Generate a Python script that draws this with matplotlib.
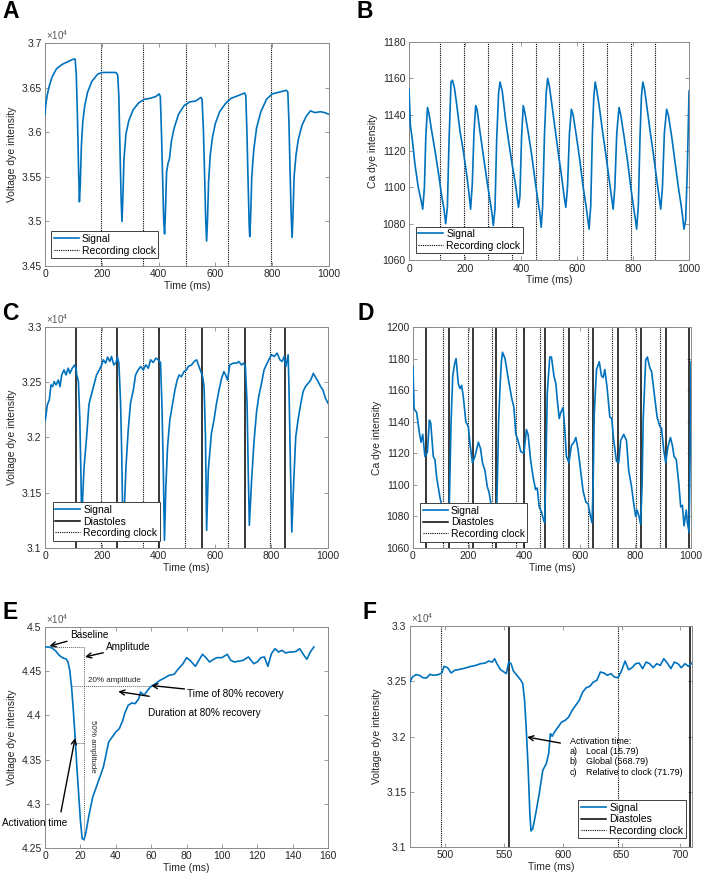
import matplotlib.pyplot as plt
from matplotlib.ticker import FuncFormatter

plt.rcParams['font.family'] = ['Liberation Sans', 'DejaVu Sans']
plt.rcParams['mathtext.fontset'] = 'custom'
plt.rcParams['mathtext.rm'] = 'Liberation Sans'
plt.rcParams['font.size'] = 7.5

blue = '#0072BD'

# ---- panel A: voltage signal (x10^4) ----
a_t = [0, 3, 8, 15, 25, 40, 60, 80, 100, 106, 110, 114, 118, 121, 124, 128, 133, 140, 150, 165,
       185, 200, 230, 250, 256, 260, 264, 268, 271, 274, 278, 285, 295, 310, 330, 350, 370, 390,
       402, 406, 410, 414, 418, 421, 424, 428, 433, 438, 445, 455, 470, 490, 510, 530, 549, 553,
       558, 562, 566, 569, 572, 576, 582, 590, 600, 615, 635, 655, 680, 703, 707, 711, 715, 719,
       721, 724, 728, 735, 745, 760, 780, 800, 825, 850, 855, 859, 863, 867, 870, 873, 877, 884,
       892, 905, 920, 935, 950, 970, 985, 1000]
a_v = [3.620, 3.632, 3.642, 3.652, 3.662, 3.671, 3.676, 3.679, 3.682, 3.682, 3.665, 3.620, 3.560,
       3.522, 3.540, 3.585, 3.612, 3.630, 3.645, 3.657, 3.665, 3.667, 3.667, 3.667, 3.664, 3.640,
       3.580, 3.525, 3.500, 3.525, 3.570, 3.598, 3.613, 3.625, 3.633, 3.637, 3.638, 3.640, 3.643,
       3.640, 3.600, 3.550, 3.500, 3.486, 3.510, 3.555, 3.565, 3.570, 3.590, 3.605, 3.620, 3.630,
       3.634, 3.635, 3.639, 3.637, 3.600, 3.550, 3.500, 3.478, 3.500, 3.545, 3.575, 3.595, 3.610,
       3.623, 3.632, 3.638, 3.641, 3.644, 3.641, 3.600, 3.545, 3.495, 3.483, 3.505, 3.550, 3.580,
       3.605, 3.623, 3.637, 3.643, 3.645, 3.647, 3.645, 3.610, 3.555, 3.505, 3.482, 3.505, 3.550,
       3.575, 3.592, 3.608, 3.618, 3.624, 3.622, 3.623, 3.622, 3.620]
a_clock = [196, 346, 496, 646, 797]

# ---- panel B: calcium signal ----
b_t = [0, 5, 12, 21, 33, 43, 49, 55, 60, 66, 71, 81, 93, 105, 117, 125, 131, 137, 143, 150, 155,
       162, 170, 182, 194, 206, 214, 220, 226, 232, 238, 243, 254, 266, 278, 288, 296, 301, 307,
       313, 320, 325, 333, 345, 357, 369, 380, 386, 391, 396, 402, 408, 414, 426, 438, 450, 460,
       467, 472, 477, 484, 490, 495, 501, 509, 521, 533, 545, 554, 560, 566, 573, 580, 586, 598,
       610, 622, 632, 638, 643, 649, 655, 660, 665, 671, 679, 691, 703, 715, 723, 729, 735, 742,
       750, 756, 768, 780, 792, 802, 808, 813, 819, 825, 830, 835, 841, 849, 861, 873, 885, 893,
       899, 905, 912, 920, 926, 938, 950, 962, 972, 977, 982, 988, 994, 1000]
b_v = [1154, 1134, 1126, 1113, 1100, 1093, 1088, 1100, 1128, 1144, 1141, 1131, 1120, 1108, 1095,
       1088, 1080, 1089, 1126, 1158, 1159, 1155, 1146, 1131, 1120, 1107, 1097, 1088, 1102, 1130,
       1145, 1143, 1130, 1117, 1104, 1094, 1086, 1079, 1088, 1126, 1152, 1158, 1153, 1137, 1124,
       1112, 1102, 1095, 1089, 1095, 1128, 1145, 1141, 1130, 1118, 1104, 1093, 1086, 1078, 1089,
       1130, 1152, 1160, 1156, 1147, 1133, 1119, 1106, 1095, 1089, 1100, 1130, 1143, 1140, 1128,
       1115, 1100, 1090, 1083, 1077, 1090, 1130, 1150, 1158, 1153, 1145, 1131, 1118, 1104, 1095,
       1088, 1100, 1130, 1144, 1140, 1128, 1115, 1100, 1089, 1083, 1077, 1090, 1128, 1150, 1158,
       1154, 1145, 1131, 1118, 1104, 1095, 1088, 1100, 1130, 1143, 1140, 1128, 1114, 1100, 1090,
       1084, 1077, 1082, 1110, 1153]
b_clock = [111, 197, 281, 367, 452, 536, 621, 706, 791, 877]

# ---- panel C: voltage signal with diastoles (x10^4) ----
c_t = [0, 2, 8, 15, 21, 27, 32, 39, 47, 53, 59, 67, 74, 82, 88, 96, 105, 110, 112, 118, 123, 127,
       130, 133, 138, 147, 155, 159, 171, 182, 192, 200, 206, 214, 221, 229, 235, 243, 251, 256,
       261, 267, 271, 275, 278, 281, 286, 294, 302, 312, 320, 329, 338, 347, 356, 365, 373, 382,
       392, 400, 408, 413, 418, 422, 427, 433, 441, 451, 459, 467, 474, 482, 491, 500, 506, 518,
       527, 536, 544, 551, 557, 562, 567, 571, 577, 582, 588, 597, 606, 615, 624, 632, 638, 645,
       653, 665, 677, 685, 694, 702, 708, 714, 718, 722, 730, 738, 747, 755, 765, 774, 782, 791,
       800, 810, 820, 830, 838, 845, 851, 859, 862, 867, 872, 879, 886, 894, 904, 912, 920, 930,
       939, 948, 955, 965, 974, 982, 991, 1000]
c_v = [3.215, 3.2174, 3.2295, 3.234, 3.2476, 3.246, 3.2506, 3.2476, 3.252, 3.246, 3.2566, 3.2612,
       3.2566, 3.2627, 3.258, 3.2627, 3.2657, 3.262, 3.2566, 3.2506, 3.216, 3.165, 3.115, 3.146,
       3.1735, 3.2007, 3.2295, 3.234, 3.246, 3.2566, 3.2612, 3.2657, 3.2703, 3.2673, 3.2727,
       3.2688, 3.2733, 3.2657, 3.2679, 3.2727, 3.2673, 3.231, 3.1855, 3.12, 3.11, 3.14, 3.1735,
       3.2068, 3.231, 3.243, 3.2566, 3.2612, 3.2642, 3.2612, 3.2657, 3.2627, 3.2703, 3.2679,
       3.2718, 3.2703, 3.2679, 3.231, 3.1705, 3.107, 3.1553, 3.1916, 3.2158, 3.231, 3.243, 3.252,
       3.2566, 3.255, 3.2596, 3.2612, 3.2642, 3.2657, 3.2688, 3.2703, 3.2642, 3.2596, 3.255,
       3.246, 3.2007, 3.116, 3.1705, 3.1855, 3.2037, 3.2158, 3.231, 3.243, 3.2536, 3.2596,
       3.2566, 3.252, 3.2657, 3.2673, 3.2673, 3.2688, 3.2657, 3.2673, 3.2642, 3.231, 3.1705,
       3.1205, 3.1614, 3.1946, 3.2219, 3.237, 3.2491, 3.2612, 3.2657, 3.2703, 3.2749, 3.2733,
       3.2764, 3.2703, 3.2688, 3.2733, 3.2642, 3.2749, 3.246, 3.1765, 3.1144, 3.1614, 3.2007,
       3.2158, 3.231, 3.2415, 3.246, 3.2491, 3.252, 3.258, 3.255, 3.2506, 3.246, 3.243, 3.2355,
       3.231]
c_diastoles = [109, 256, 402, 553, 706, 849]
c_clock = [198, 346, 495, 646, 796]

# ---- panel D: calcium signal with diastoles ----
d_t = [0, 4, 13, 23, 29, 35, 43, 47, 52, 59, 64, 73, 79, 85, 97, 110, 120, 126, 131, 137, 143,
       150, 155, 163, 169, 175, 181, 190, 199, 205, 214, 223, 235, 243, 250, 259, 267, 274, 283,
       292, 297, 302, 308, 313, 318, 322, 331, 343, 355, 363, 370, 378, 388, 399, 408, 414, 423,
       432, 441, 447, 454, 462, 471, 474, 478, 483, 492, 498, 507, 514, 519, 526, 532, 540, 546,
       552, 561, 570, 579, 586, 594, 603, 612, 622, 630, 636, 644, 648, 652, 660, 670, 678, 684,
       690, 698, 708, 715, 722, 732, 740, 747, 758, 768, 776, 786, 794, 801, 806, 813, 819, 824,
       828, 837, 843, 852, 858, 867, 878, 888, 894, 902, 909, 917, 926, 933, 939, 947, 956, 963,
       969, 975, 983, 987, 993, 997, 1000]
d_v = [1175, 1148, 1146, 1133, 1127, 1132, 1118, 1119, 1121, 1141, 1139, 1118, 1116, 1105, 1092,
       1082, 1074, 1072, 1090, 1140, 1169, 1177, 1180, 1164, 1161, 1163, 1156, 1140, 1137, 1126,
       1114, 1118, 1127, 1123, 1114, 1109, 1099, 1095, 1085, 1076, 1070, 1090, 1140, 1162, 1178,
       1184, 1180, 1167, 1155, 1149, 1132, 1128, 1121, 1120, 1135, 1132, 1116, 1105, 1097, 1098,
       1086, 1083, 1077, 1076, 1110, 1158, 1181, 1181, 1169, 1164, 1154, 1142, 1146, 1149, 1135,
       1118, 1114, 1125, 1127, 1130, 1122, 1109, 1096, 1089, 1088, 1082, 1076, 1100, 1145, 1173,
       1178, 1169, 1168, 1173, 1162, 1143, 1142, 1128, 1115, 1114, 1128, 1132, 1128, 1109, 1099,
       1088, 1080, 1084, 1080, 1075, 1100, 1141, 1179, 1181, 1174, 1172, 1159, 1143, 1137, 1136,
       1122, 1114, 1124, 1130, 1125, 1118, 1116, 1101, 1086, 1087, 1074, 1084, 1076, 1070, 1120,
       1178]
d_diastoles = [46, 129, 216, 299, 399, 474, 561, 648, 738, 820, 909, 993]
d_clock = [109, 197, 284, 370, 456, 540, 628, 716, 803, 890]

# ---- panel E: single beat (x10^4) ----
e_t = [0, 2, 4, 6, 8, 10, 12, 13, 14, 15, 16, 17, 18, 19, 20, 21, 22, 23, 25, 27, 29, 31, 33, 35,
       36, 38, 40, 42, 44, 45, 47, 49, 51, 53, 54, 56, 58, 60, 62, 65, 68, 70, 73, 75, 78, 80, 82,
       85, 87, 89, 91, 93, 95, 97, 100, 103, 105, 107, 109, 112, 115, 118, 120, 122, 124, 126,
       128, 130, 132, 134, 136, 138, 140, 142, 144, 146, 148, 150, 152]
e_v = [4.4774, 4.4774, 4.4762, 4.4729, 4.468, 4.465, 4.4638, 4.4604, 4.451, 4.4321, 4.4057,
       4.3756, 4.3416, 4.3115, 4.2813, 4.2606, 4.2594, 4.2662, 4.2888, 4.3077, 4.319, 4.3303,
       4.3416, 4.3605, 4.3699, 4.3756, 4.3812, 4.385, 4.3944, 4.402, 4.4114, 4.414, 4.4133,
       4.4189, 4.4265, 4.4227, 4.4284, 4.4329, 4.4351, 4.4397, 4.4427, 4.4453, 4.4465, 4.4517,
       4.4585, 4.4653, 4.4623, 4.4555, 4.4623, 4.4691, 4.4653, 4.4604, 4.463, 4.4653, 4.4653,
       4.4691, 4.4623, 4.4604, 4.4612, 4.4623, 4.4661, 4.4585, 4.4604, 4.4653, 4.4661, 4.4555,
       4.4698, 4.4755, 4.4717, 4.4736, 4.4706, 4.4717, 4.4717, 4.4725, 4.4755, 4.4691, 4.4634,
       4.4717, 4.4774]
e_activation = 17.0
e_recovery = 60.0

# ---- panel F: zoom on one beat (x10^4) ----
f_t = [470, 472, 475, 478, 481, 484, 487, 490, 494, 497, 499, 502, 505, 508, 511, 515, 518, 522,
       526, 530, 534, 537, 540, 542, 544, 547, 550, 552, 554, 556, 558, 561, 564, 566, 567.5, 569,
       570.5, 572, 573, 574.5, 577, 580, 583, 586, 588, 589.5, 591, 593, 596, 599, 602, 605, 608,
       611, 614, 617, 620, 623, 626, 629, 632, 635, 638, 641, 644, 647, 650, 653, 656, 659, 662,
       665, 668, 671, 674, 677, 680, 683, 686, 689, 692, 695, 698, 701, 704, 707, 710]
f_v = [3.2493, 3.2538, 3.256, 3.2554, 3.2532, 3.2529, 3.2563, 3.2554, 3.256, 3.2575, 3.2635,
       3.2623, 3.2575, 3.2599, 3.2605, 3.2614, 3.2623, 3.2635, 3.2644, 3.2659, 3.2665, 3.2683,
       3.2674, 3.2704, 3.2659, 3.2605, 3.2584, 3.2569, 3.2674, 3.2659, 3.2593, 3.2554, 3.2514,
       3.2478, 3.2327, 3.2056, 3.1724, 3.1302, 3.1145, 3.1166, 3.1302, 3.1483, 3.1694, 3.1754,
       3.1845, 3.2026, 3.2002, 3.2041, 3.2086, 3.2131, 3.2146, 3.2176, 3.2237, 3.2282, 3.2327,
       3.2403, 3.2442, 3.2454, 3.2493, 3.2508, 3.2584, 3.2575, 3.2554, 3.2569, 3.2538, 3.2532,
       3.2593, 3.2683, 3.2605, 3.2623, 3.2659, 3.2665, 3.2614, 3.2674, 3.2659, 3.2623, 3.2659,
       3.2644, 3.2704, 3.2665, 3.2614, 3.2674, 3.2659, 3.2623, 3.2659, 3.2635, 3.2665]
f_diastoles = [554, 708.6]
f_clock = [496.6, 646.8]
f_lines = ['Activation time:', 'a)', 'Local (15.79)', 'b)', 'Global (568.79)', 'c)',
           'Relative to clock (71.79)']


def style(ax, xlim, ylim, xticks, yticks, ylabel, sci=False):
    ax.set_xlim(xlim)
    ax.set_ylim(ylim)
    ax.set_xticks(xticks)
    ax.set_yticks(yticks)
    ax.xaxis.set_major_formatter(FuncFormatter(lambda v, p: '%g' % v))
    ax.yaxis.set_major_formatter(FuncFormatter(lambda v, p: '%g' % v))
    ax.tick_params(direction='in', top=True, right=True, length=3, width=0.6,
                   color='#8a8a8a', labelcolor='#262626', labelsize=7.5, pad=2.5)
    for s in ax.spines.values():
        s.set_color('#8a8a8a')
        s.set_linewidth(0.7)
    ax.set_xlabel('Time (ms)', labelpad=1, color='#262626')
    ax.set_ylabel(ylabel, labelpad=3, color='#262626')
    if sci:
        ax.text(0.003, 1.006, r'$\times10^{4}$', transform=ax.transAxes, fontsize=7,
                color='#555555', va='bottom', ha='left')


def vlines(ax, xs, ls, lw, label):
    for i, x in enumerate(xs):
        ax.axvline(x, color='k', ls=ls, lw=lw, label=label if i == 0 else '_nolegend_', zorder=2)


def legend(ax, loc, anchor):
    leg = ax.legend(loc=loc, bbox_to_anchor=anchor, borderaxespad=0, fancybox=False,
                    edgecolor='#404040', framealpha=1, handlelength=2.4, handletextpad=0.3,
                    labelspacing=0.15, borderpad=0.25, fontsize=7.5)
    leg.get_frame().set_linewidth(0.7)


dot = (0, (1, 1))
fig = plt.figure(figsize=(7.08, 8.8), dpi=100)

# A
ax = fig.add_axes([0.0636, 0.6977, 0.4011, 0.2534])
ax.plot(a_t, a_v, color=blue, lw=1.2, label='Signal', zorder=3)
vlines(ax, a_clock, dot, 0.8, 'Recording clock')
style(ax, (0, 1000), (3.45, 3.7), range(0, 1001, 200),
      [3.45, 3.5, 3.55, 3.6, 3.65, 3.7], 'Voltage dye intensity', sci=True)
legend(ax, 'lower left', (0.021, 0.035))

# B
ax = fig.add_axes([0.5777, 0.7045, 0.3955, 0.2477])
ax.plot(b_t, b_v, color=blue, lw=1.2, label='Signal', zorder=3)
vlines(ax, b_clock, dot, 0.8, 'Recording clock')
style(ax, (0, 1000), (1060, 1180), range(0, 1001, 200), range(1060, 1181, 20),
      'Ca dye intensity')
legend(ax, 'lower left', (0.024, 0.031))

# C
ax = fig.add_axes([0.0636, 0.3773, 0.3997, 0.2511])
ax.plot(c_t, c_v, color=blue, lw=1.2, label='Signal', zorder=3)
vlines(ax, c_diastoles, '-', 1.1, 'Diastoles')
vlines(ax, c_clock, dot, 0.8, 'Recording clock')
style(ax, (0, 1000), (3.1, 3.3), range(0, 1001, 200), [3.1, 3.15, 3.2, 3.25, 3.3],
      'Voltage dye intensity', sci=True)
legend(ax, 'lower left', (0.027, 0.033))

# D
ax = fig.add_axes([0.5833, 0.3773, 0.3927, 0.2511])
ax.plot(d_t, d_v, color=blue, lw=1.2, label='Signal', zorder=3)
vlines(ax, d_diastoles, '-', 1.1, 'Diastoles')
vlines(ax, d_clock, dot, 0.8, 'Recording clock')
style(ax, (0, 1000), (1060, 1200), range(0, 1001, 200), range(1060, 1201, 20),
      'Ca dye intensity')
legend(ax, 'lower left', (0.025, 0.029))

# E
ax = fig.add_axes([0.0636, 0.0364, 0.3997, 0.2511])
ax.plot(e_t, e_v, color=blue, lw=1.2, zorder=3)
base = e_v[0]
trough = min(e_v)
t_min = e_t[e_v.index(trough)]
amp = base - trough
lvl20 = trough + 0.8 * amp
lvl50 = trough + 0.5 * amp
gc = '#606060'
ax.plot([2.5, t_min], [base, base], color=gc, ls=dot, lw=0.7)
ax.plot([t_min, t_min], [base, trough], color=gc, ls=dot, lw=0.7)
ax.plot([15, e_recovery], [lvl20, lvl20], color=gc, ls=dot, lw=0.7)
ax.plot([e_activation, t_min], [lvl50, lvl50], color=gc, ls=dot, lw=0.7)
arr = dict(arrowstyle='->', color='k', lw=1.0, shrinkA=0, shrinkB=0, mutation_scale=9)
fs = 7.2
ax.annotate('Baseline', xy=(2.5, base + 0.001), xytext=(14.0, 4.4906), arrowprops=arr,
            va='center', ha='left', fontsize=fs)
ax.annotate('Amplitude', xy=(22.6, 4.4661), xytext=(34.5, 4.4774), arrowprops=arr,
            va='center', ha='left', fontsize=fs)
ax.text(39.5, lvl20 + 0.002, '20% amplitude', fontsize=5.8, ha='center', va='bottom',
        color='#262626')
ax.text(26.9, 4.3653, '50% amplitude', fontsize=5.8, ha='center', va='center', rotation=270,
        color='#262626')
ax.annotate('Time of 80% recovery', xy=(e_recovery, lvl20), xytext=(80.4, 4.4239),
            arrowprops=arr, va='center', ha='left', fontsize=fs)
ax.annotate('', xy=(41.4, 4.4270), xytext=(58.9, 4.4216), arrowprops=arr)
ax.text(58.3, 4.4028, 'Duration at 80% recovery', va='center', ha='left', fontsize=fs)
ax.annotate('', xy=(e_activation, lvl50 + 0.006), xytext=(9.0, 4.2907), arrowprops=arr)
ax.text(-24.5, 4.2783, 'Activation time', va='center', ha='left', fontsize=fs)
style(ax, (0, 160), (4.25, 4.5), range(0, 161, 20), [4.25, 4.3, 4.35, 4.4, 4.45, 4.5],
      'Voltage dye intensity', sci=True)

# F
ax = fig.add_axes([0.5791, 0.0375, 0.3983, 0.2511])
ax.plot(f_t, f_v, color=blue, lw=1.2, label='Signal', zorder=3)
vlines(ax, f_diastoles, '-', 1.1, 'Diastoles')
vlines(ax, f_clock, dot, 0.8, 'Recording clock')
ax.annotate('', xy=(569.7, 3.1995), xytext=(598, 3.1941), arrowprops=arr)
ax.text(606, 3.1956, f_lines[0], fontsize=6.5, va='center', ha='left')
for i in range(3):
    y = 3.1866 - i * 0.0096
    ax.text(606, y, f_lines[1 + 2 * i], fontsize=6.5, va='center', ha='left')
    ax.text(620, y, f_lines[2 + 2 * i], fontsize=6.5, va='center', ha='left')
style(ax, (470, 710), (3.1, 3.3), range(500, 701, 50), [3.1, 3.15, 3.2, 3.25, 3.3],
      'Voltage dye intensity', sci=True)
legend(ax, 'lower right', (0.978, 0.039))

for lab, x, y in [('A', 2, 18), ('B', 356, 18), ('C', 2, 320), ('D', 358, 320),
                  ('E', 2, 619), ('F', 363, 619)]:
    fig.text(x / 708, 1 - y / 880, lab, fontsize=16.5, fontweight='bold', ha='left',
             va='baseline')

plt.savefig('out.png', dpi=100)
